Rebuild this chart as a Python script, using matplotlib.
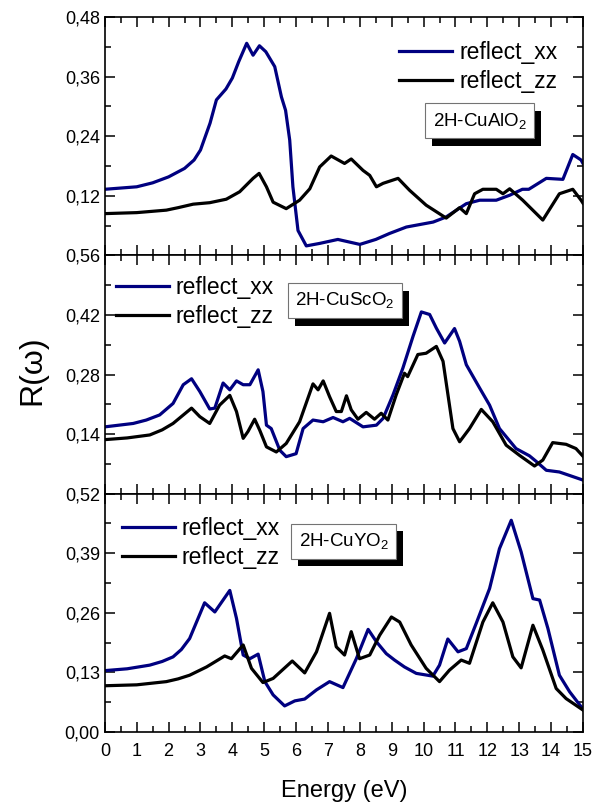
import matplotlib
matplotlib.use("Agg")
import matplotlib.pyplot as plt
import matplotlib.patheffects as pe
from matplotlib.ticker import MultipleLocator, FuncFormatter

plt.rcParams['font.family'] = ['Liberation Sans', 'DejaVu Sans']
plt.rcParams['mathtext.fontset'] = 'custom'
plt.rcParams['mathtext.rm'] = 'Liberation Sans'
plt.rcParams['mathtext.it'] = 'Liberation Sans:italic'

# ---- 2H-CuAlO2 ----
al_e_xx = [0, 1, 1.5, 2, 2.5, 2.8, 3, 3.3, 3.5, 3.8, 4.0, 4.2, 4.45, 4.65, 4.85, 5.05, 5.33,
           5.54, 5.67, 5.80, 5.90, 6.06, 6.32, 6.74, 7.31, 8.0, 8.5, 8.93, 9.46, 10.3, 10.7,
           11.34, 11.76, 12.28, 12.7, 13.1, 13.3, 13.85, 14.37, 14.68, 14.94, 15]
al_xx = [0.133, 0.138, 0.146, 0.158, 0.175, 0.192, 0.212, 0.266, 0.313, 0.335, 0.357, 0.39,
         0.427, 0.403, 0.422, 0.41, 0.380, 0.319, 0.292, 0.232, 0.138, 0.050, 0.019, 0.024,
         0.032, 0.022, 0.032, 0.044, 0.057, 0.067, 0.077, 0.104, 0.111, 0.111, 0.121, 0.133,
         0.133, 0.155, 0.153, 0.203, 0.192, 0.185]
al_e_zz = [0, 1.0, 1.93, 2.3, 2.77, 3.29, 3.81, 4.23, 4.65, 4.84, 5.07, 5.28, 5.69, 6.11, 6.43,
           6.74, 7.1, 7.52, 7.73, 8.1, 8.31, 8.52, 8.73, 9.2, 9.56, 10.08, 10.71, 11.13, 11.34,
           11.6, 11.86, 12.28, 12.49, 12.7, 13.11, 13.74, 14.26, 14.68, 14.94, 15]
al_zz = [0.084, 0.086, 0.091, 0.096, 0.103, 0.106, 0.113, 0.128, 0.155, 0.165, 0.138, 0.107,
         0.094, 0.111, 0.134, 0.178, 0.200, 0.185, 0.194, 0.171, 0.161, 0.138, 0.145, 0.155,
         0.131, 0.101, 0.075, 0.096, 0.084, 0.124, 0.133, 0.133, 0.124, 0.134, 0.111, 0.071,
         0.124, 0.133, 0.111, 0.105]

# ---- 2H-CuScO2 ----
sc_e_xx = [0, 0.89, 1.3, 1.72, 2.14, 2.46, 2.72, 2.98, 3.29, 3.45, 3.71, 3.92, 4.13, 4.34,
           4.55, 4.81, 4.96, 5.07, 5.22, 5.49, 5.69, 6.0, 6.22, 6.53, 6.85, 7.16, 7.47, 7.68,
           8.1, 8.52, 8.73, 9.04, 9.35, 9.67, 9.93, 10.19, 10.4, 10.66, 10.97, 11.13, 11.34,
           11.76, 12.07, 12.38, 12.9, 13.32, 13.53, 13.85, 14.26, 15]
sc_xx = [0.157, 0.165, 0.173, 0.185, 0.212, 0.256, 0.270, 0.240, 0.199, 0.201, 0.260, 0.244,
         0.265, 0.256, 0.256, 0.291, 0.240, 0.161, 0.153, 0.102, 0.087, 0.094, 0.153, 0.173,
         0.169, 0.179, 0.169, 0.177, 0.157, 0.161, 0.177, 0.232, 0.295, 0.370, 0.427, 0.421,
         0.389, 0.354, 0.388, 0.358, 0.303, 0.248, 0.208, 0.153, 0.106, 0.089, 0.076, 0.055,
         0.051, 0.032]
sc_e_zz = [0, 0.7, 1.41, 1.8, 2.14, 2.72, 2.98, 3.29, 3.6, 3.92, 4.13, 4.34, 4.49, 4.7, 4.86,
           5.07, 5.38, 5.69, 6.11, 6.53, 6.69, 6.85, 7.05, 7.26, 7.42, 7.58, 7.73, 7.94, 8.2,
           8.46, 8.67, 8.88, 9.14, 9.4, 9.5, 9.82, 10.08, 10.4, 10.61, 10.92, 11.13, 11.44,
           11.81, 12.17, 12.59, 13.01, 13.48, 13.74, 14.05, 14.47, 14.78, 15]
sc_zz = [0.127, 0.131, 0.138, 0.150, 0.165, 0.201, 0.181, 0.165, 0.208, 0.231, 0.193, 0.130,
         0.146, 0.175, 0.149, 0.110, 0.098, 0.118, 0.169, 0.258, 0.244, 0.265, 0.228, 0.193,
         0.193, 0.230, 0.197, 0.175, 0.191, 0.175, 0.189, 0.173, 0.232, 0.283, 0.275, 0.327,
         0.330, 0.346, 0.311, 0.153, 0.122, 0.153, 0.198, 0.169, 0.114, 0.090, 0.065, 0.079,
         0.120, 0.116, 0.106, 0.088]

# ---- 2H-CuYO2 ----
y_e_xx = [0, 0.7, 1.41, 1.8, 2.14, 2.4, 2.66, 3.13, 3.45, 3.92, 4.13, 4.34, 4.55, 4.81, 5.02,
          5.28, 5.64, 5.96, 6.27, 6.64, 7.05, 7.47, 7.89, 8.26, 8.52, 8.83, 9.09, 9.4, 9.77,
          10.29, 10.5, 10.76, 11.08, 11.34, 11.65, 12.07, 12.38, 12.75, 13.06, 13.43, 13.64,
          13.9, 14.26, 14.58, 15]
y_xx = [0.134, 0.138, 0.146, 0.154, 0.164, 0.180, 0.204, 0.282, 0.262, 0.309, 0.248, 0.168,
        0.160, 0.170, 0.110, 0.081, 0.057, 0.068, 0.072, 0.092, 0.110, 0.097, 0.160, 0.224,
        0.197, 0.171, 0.157, 0.142, 0.128, 0.122, 0.146, 0.203, 0.175, 0.182, 0.237, 0.313,
        0.400, 0.462, 0.393, 0.291, 0.288, 0.226, 0.124, 0.088, 0.050]
y_e_zz = [0, 1.0, 1.93, 2.3, 2.66, 3.19, 3.76, 3.97, 4.34, 4.6, 4.96, 5.28, 5.88, 6.27, 6.64,
          7.05, 7.26, 7.52, 7.73, 7.99, 8.31, 8.62, 8.99, 9.25, 9.61, 10.08, 10.5, 10.81,
          11.18, 11.44, 11.86, 12.17, 12.49, 12.8, 13.06, 13.43, 13.74, 14.16, 14.47, 15]
y_zz = [0.101, 0.103, 0.110, 0.116, 0.124, 0.142, 0.166, 0.160, 0.190, 0.139, 0.108, 0.117,
        0.155, 0.129, 0.175, 0.259, 0.186, 0.168, 0.219, 0.160, 0.168, 0.211, 0.251, 0.240,
        0.190, 0.139, 0.110, 0.135, 0.157, 0.150, 0.240, 0.282, 0.240, 0.164, 0.140, 0.233,
        0.179, 0.095, 0.073, 0.048]

panels = [
    dict(exx=al_e_xx, xx=al_xx, ezz=al_e_zz, zz=al_zz, ymax=0.48, step=0.12,
         name='2H-CuAlO$_2$', box=(0.784, 0.565), leg='upper right', legpos=(0.975, 0.955)),
    dict(exx=sc_e_xx, xx=sc_xx, ezz=sc_e_zz, zz=sc_zz, ymax=0.56, step=0.14,
         name='2H-CuScO$_2$', box=(0.502, 0.811), leg='upper left', legpos=(-0.005, 0.97)),
    dict(exx=y_e_xx, xx=y_xx, ezz=y_e_zz, zz=y_zz, ymax=0.52, step=0.13,
         name='2H-CuYO$_2$', box=(0.50, 0.80), leg='upper left', legpos=(0.008, 0.96)),
]

fig, axes = plt.subplots(3, 1, figsize=(6.06, 8.08), dpi=100, sharex=True)
fig.subplots_adjust(left=0.173, right=0.962, top=0.979, bottom=0.094, hspace=0)


def fmt_top(v, pos):
    return '' if abs(v) < 1e-9 else ('%.2f' % v).replace('.', ',')


def fmt_all(v, pos):
    return ('%.2f' % v).replace('.', ',')


for i, (ax, p) in enumerate(zip(axes, panels)):
    ax.plot(p['exx'], p['xx'], color='#000080', lw=2.3, label='reflect_xx')
    ax.plot(p['ezz'], p['zz'], color='black', lw=2.3, label='reflect_zz')
    ax.set_xlim(0, 15)
    ax.set_ylim(0, p['ymax'])
    ax.yaxis.set_major_locator(MultipleLocator(p['step']))
    ax.yaxis.set_minor_locator(MultipleLocator(p['step'] / 2))
    ax.xaxis.set_major_locator(MultipleLocator(1))
    ax.xaxis.set_minor_locator(MultipleLocator(0.5))
    ax.yaxis.set_major_formatter(FuncFormatter(fmt_top if i < 2 else fmt_all))
    ax.tick_params(which='both', direction='in', top=True, right=True, width=1.1,
                   labelsize=13)
    ax.tick_params(axis='x', pad=8)
    ax.tick_params(which='major', length=7)
    ax.tick_params(which='minor', length=4)
    for s in ax.spines.values():
        s.set_linewidth(1.2)
    ax.legend(loc=p['leg'], bbox_to_anchor=p['legpos'], frameon=False, fontsize=16.5,
              handlelength=2.3, handletextpad=0.3, labelspacing=0.25, borderaxespad=0.2)
    t = ax.text(p['box'][0], p['box'][1], p['name'], transform=ax.transAxes,
                ha='center', va='center', fontsize=13.5,
                bbox=dict(boxstyle='square,pad=0.4', fc='white', ec='0.45', lw=0.8))
    t.get_bbox_patch().set_path_effects([
        pe.withSimplePatchShadow(offset=(5, -5.5), shadow_rgbFace='black', alpha=1.0)])

axes[2].set_xlabel('Energy (eV)', fontsize=17, labelpad=14)
fig.text(0.053, 0.542, 'R(ω)', rotation=90, ha='center', va='center', fontsize=23)

fig.savefig('out.png', dpi=100)
